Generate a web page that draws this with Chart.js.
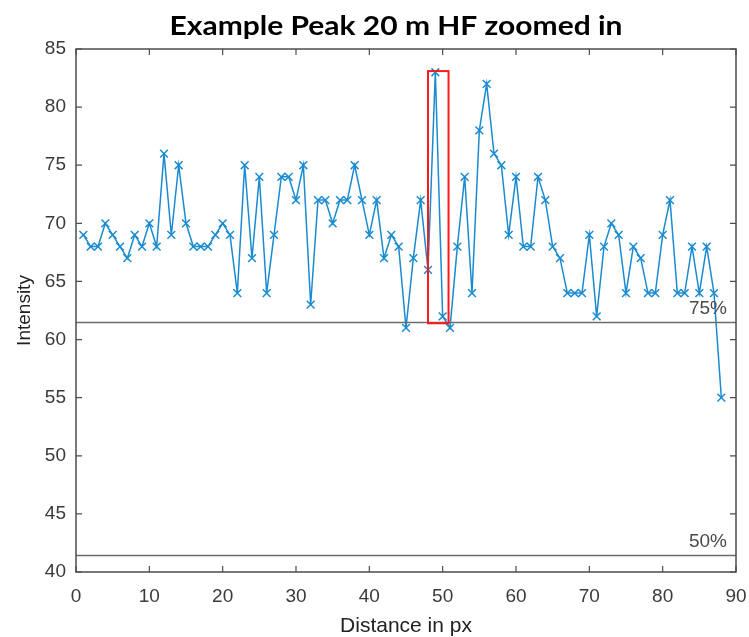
<!DOCTYPE html>
<html>
<head>
<meta charset="utf-8">
<script src="https://cdn.jsdelivr.net/npm/chart.js@4/dist/chart.umd.min.js"></script>
<style>
  html, body { margin: 0; padding: 0; background: #fff; }
  #wrap { width: 749px; height: 637px; }
</style>
</head>
<body>
<div id="wrap"><canvas id="c" width="749" height="637"></canvas></div>
<script>
const chartTitle = 'Example Peak 20 m HF zoomed in';
const xAxisTitle = 'Distance in px';
const yAxisTitle = 'Intensity';

const distances = [1, 2, 3, 4, 5, 6, 7, 8, 9, 10, 11, 12, 13, 14, 15, 16, 17, 18, 19, 20,
  21, 22, 23, 24, 25, 26, 27, 28, 29, 30, 31, 32, 33, 34, 35, 36, 37, 38, 39, 40,
  41, 42, 43, 44, 45, 46, 47, 48, 49, 50, 51, 52, 53, 54, 55, 56, 57, 58, 59, 60,
  61, 62, 63, 64, 65, 66, 67, 68, 69, 70, 71, 72, 73, 74, 75, 76, 77, 78, 79, 80,
  81, 82, 83, 84, 85, 86, 87, 88];
const intensity = [69, 68, 68, 70, 69, 68, 67, 69, 68, 70, 68, 76, 69, 75, 70, 68, 68, 68, 69, 70,
  69, 64, 75, 67, 74, 64, 69, 74, 74, 72, 75, 63, 72, 72, 70, 72, 72, 75, 72, 69,
  72, 67, 69, 68, 61, 67, 72, 66, 83, 62, 61, 68, 74, 64, 78, 82, 76, 75, 69, 74,
  68, 68, 74, 72, 68, 67, 64, 64, 64, 69, 62, 68, 70, 69, 64, 68, 67, 64, 64, 69,
  72, 64, 64, 68, 64, 68, 64, 55];

const xTicks = [0, 10, 20, 30, 40, 50, 60, 70, 80, 90];
const yTicks = [40, 45, 50, 55, 60, 65, 70, 75, 80, 85];

const refLevels = [61.5, 41.5];
const refLabels = ['75%', '50%'];

const highlightX = [48, 50.8];
const highlightY = [61.4, 83.1];

const points = distances.map((d, i) => ({ x: d, y: intensity[i] }));

const axisColor = '#4d4d4d';
const textColor = '#3a3a3a';
const lineColor = '#1a8bd0';

const framePlugin = {
  id: 'frame',
  afterDatasetsDraw(chart) {
    const { ctx, chartArea: a, scales: { x, y } } = chart;
    ctx.save();
    // reference lines
    ctx.strokeStyle = '#6b6b6b';
    ctx.lineWidth = 1.5;
    refLevels.forEach((lv, i) => {
      const py = Math.round(y.getPixelForValue(lv)) + 0.5;
      ctx.beginPath();
      ctx.moveTo(a.left, py);
      ctx.lineTo(a.right, py);
      ctx.stroke();
      ctx.fillStyle = '#4a4a4a';
      ctx.font = '19px "Liberation Sans", Arial, sans-serif';
      ctx.textAlign = 'right';
      ctx.textBaseline = 'middle';
      ctx.fillText(refLabels[i], a.right - 9, py - 14);
    });
    // highlight rectangle
    ctx.strokeStyle = '#ff1a1a';
    ctx.lineWidth = 2;
    const rx0 = x.getPixelForValue(highlightX[0]);
    const rx1 = x.getPixelForValue(highlightX[1]);
    const ry0 = y.getPixelForValue(highlightY[1]);
    const ry1 = y.getPixelForValue(highlightY[0]);
    ctx.strokeRect(rx0, ry0, rx1 - rx0, ry1 - ry0);
    // box
    ctx.strokeStyle = axisColor;
    ctx.lineWidth = 1.5;
    ctx.strokeRect(a.left, a.top, a.right - a.left, a.bottom - a.top);
    // inward ticks
    ctx.lineWidth = 1.2;
    const tl = 6;
    xTicks.forEach(v => {
      const px = x.getPixelForValue(v);
      ctx.beginPath();
      ctx.moveTo(px, a.bottom); ctx.lineTo(px, a.bottom - tl);
      ctx.moveTo(px, a.top); ctx.lineTo(px, a.top + tl);
      ctx.stroke();
    });
    yTicks.forEach(v => {
      const py = y.getPixelForValue(v);
      ctx.beginPath();
      ctx.moveTo(a.left, py); ctx.lineTo(a.left + tl, py);
      ctx.moveTo(a.right, py); ctx.lineTo(a.right - tl, py);
      ctx.stroke();
    });
    // main title (horizontally stretched like the reference)
    ctx.fillStyle = '#000';
    ctx.font = 'bold 27px Lato, "Open Sans", sans-serif';
    ctx.textAlign = 'center';
    ctx.textBaseline = 'alphabetic';
    ctx.translate(396, 35);
    ctx.scale(1.11, 1);
    ctx.fillText(chartTitle, 0, 0);
    ctx.restore();
  }
};

new Chart(document.getElementById('c'), {
  type: 'scatter',
  data: {
    datasets: [{
      data: points,
      showLine: true,
      borderColor: lineColor,
      backgroundColor: lineColor,
      borderWidth: 1.5,
      pointStyle: 'crossRot',
      pointRadius: 5.5,
      pointBorderWidth: 1.5,
      pointBorderColor: lineColor,
      tension: 0
    }]
  },
  options: {
    responsive: false,
    animation: false,
    layout: { padding: { top: 49, right: 13, left: 0, bottom: 0 } },
    plugins: {
      legend: { display: false },
      tooltip: { enabled: false },
      title: { display: false }
    },
    scales: {
      x: {
        type: 'linear',
        min: 0, max: 90,
        afterFit(s) { s.height = 65; s.paddingLeft = 0; s.paddingRight = 0; },
        afterBuildTicks(s) { s.ticks = xTicks.map(v => ({ value: v })); },
        grid: { display: false, drawTicks: false },
        border: { display: false },
        ticks: {
          color: textColor,
          padding: 13,
          maxRotation: 0,
          font: { family: '"Liberation Sans", Arial, sans-serif', size: 19 }
        },
        title: {
          display: true,
          text: xAxisTitle,
          color: '#222',
          font: { family: '"Liberation Sans", Arial, sans-serif', size: 21, lineHeight: 1.0 },
          padding: { top: 0, bottom: 0 }
        }
      },
      y: {
        type: 'linear',
        min: 40, max: 85,
        afterFit(s) { s.width = 76; s.paddingTop = 0; s.paddingBottom = 0; },
        afterBuildTicks(s) { s.ticks = yTicks.map(v => ({ value: v })); },
        grid: { display: false, drawTicks: false },
        border: { display: false },
        ticks: {
          color: textColor,
          padding: 10,
          font: { family: '"Liberation Sans", Arial, sans-serif', size: 19 }
        },
        title: {
          display: true,
          text: yAxisTitle,
          color: '#222',
          font: { family: '"Liberation Sans", Arial, sans-serif', size: 19 },
          padding: { top: 13, bottom: 0 }
        }
      }
    }
  },
  plugins: [framePlugin]
});
</script>
</body>
</html>
